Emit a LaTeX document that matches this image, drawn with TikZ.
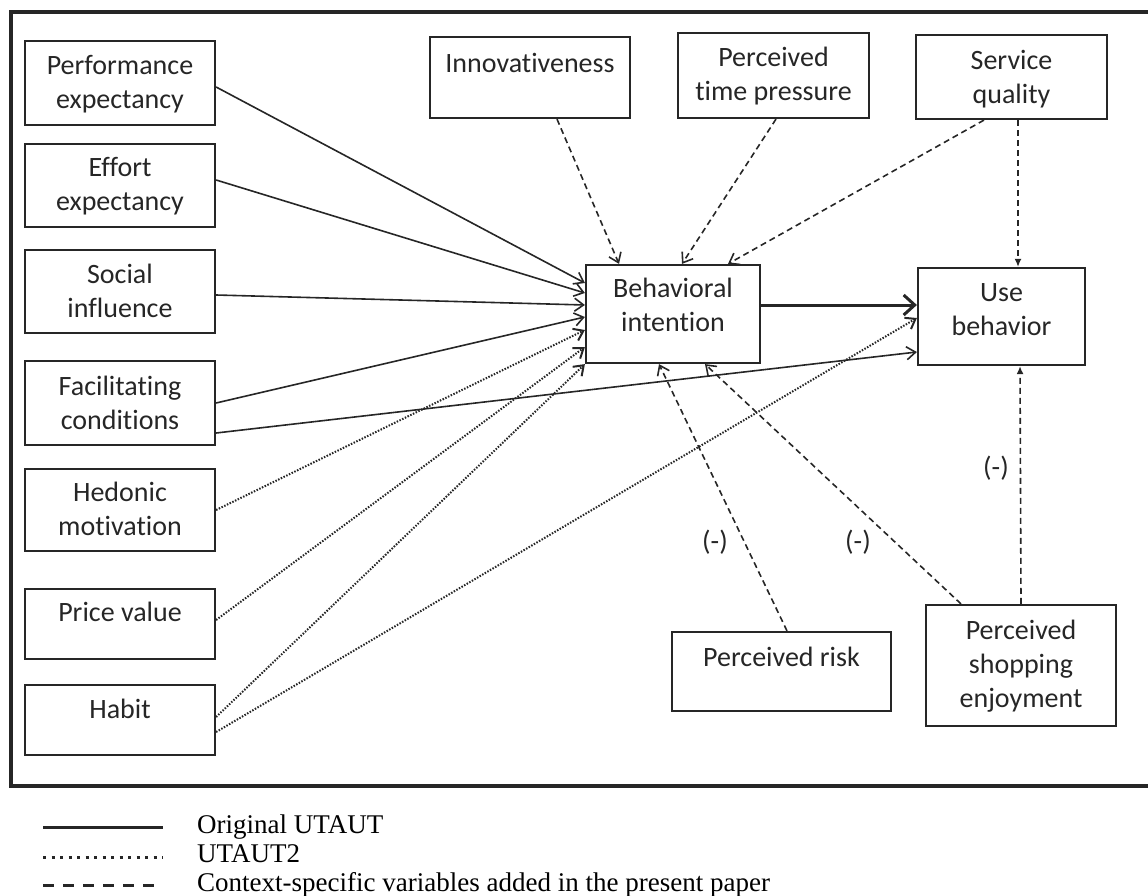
\documentclass[tikz,border=0pt]{standalone}
\usepackage{fontspec}
\setmainfont{Carlito}[Ligatures=NoCommon]
\newfontfamily\legendfont{Liberation Serif}
\usetikzlibrary{arrows.meta,positioning}
\definecolor{ink}{HTML}{262626}

\begin{document}
\begin{tikzpicture}[x=1pt, y=-1pt,
    >={Straight Barb[length=9pt,width=13pt]},
    box/.style={draw=ink, line width=2.2pt, inner sep=0pt},
    boxtext/.style={inner sep=0pt, align=center, text=ink, font=\fontsize{28}{34}\selectfont, execute at begin node=\strut},
    sign/.style={inner sep=0pt, text=ink, font=\fontsize{28}{34}\selectfont},
    legtext/.style={inner sep=0pt, anchor=base west, font=\legendfont\fontsize{27}{30}\selectfont},
    orig/.style={draw=ink, line width=1.6pt, ->},
    utaut2/.style={draw=ink, line width=2pt, dash pattern=on 1.5pt off 1.5pt, ->},
    added/.style={draw=ink, line width=1.6pt, dash pattern=on 6pt off 4pt, ->}]
    \useasboundingbox (0,0) rectangle (1148,896);
    % frame, cut off at the right
    \draw[ink, line width=3.5pt] (1148,12) -- (11,12) -- (11,786) -- (1148,786);

    % left column
    \node[box, minimum width=190pt, minimum height=84pt] (perf) at (120,83) {};
    \node[boxtext, below=15pt of perf.north] (perf-t) {Performance\\expectancy};
    \node[box, minimum width=190pt, minimum height=83pt] (effort) at (120,185.5) {};
    \node[boxtext, below=14pt of effort.north] (effort-t) {Effort\\expectancy};
    \node[box, minimum width=190pt, minimum height=83pt] (social) at (120,291.5) {};
    \node[boxtext, below=15pt of social.north] (social-t) {Social\\influence};
    \node[box, minimum width=190pt, minimum height=84pt] (facil) at (120,403) {};
    \node[boxtext, below=16pt of facil.north] (facil-t) {Facilitating\\conditions};
    \node[box, minimum width=190pt, minimum height=82pt] (hedonic) at (120,510) {};
    \node[boxtext, below=14pt of hedonic.north] (hedonic-t) {Hedonic\\motivation};
    \node[box, minimum width=190pt, minimum height=70pt] (price) at (120,624) {};
    \node[boxtext, below=10pt of price.north] (price-t) {Price value};
    \node[box, minimum width=190pt, minimum height=70pt] (habit) at (120,720) {};
    \node[boxtext, below=11pt of habit.north] (habit-t) {Habit};

    % top row
    \node[box, minimum width=200pt, minimum height=81pt] (innov) at (530,77.5) {};
    \node[boxtext, below=13pt of innov.north] (innov-t) {Innovativeness};
    \node[box, minimum width=191pt, minimum height=85pt] (time) at (773.5,75.5) {};
    \node[boxtext, below=15pt of time.north] (time-t) {Perceived\\time pressure};
    \node[box, minimum width=191pt, minimum height=84pt] (serv) at (1011.5,77) {};
    \node[boxtext, below=16pt of serv.north] (serv-t) {Service\\quality};

    % outcomes
    \node[box, minimum width=174pt, minimum height=98pt] (bi) at (673,314) {};
    \node[boxtext, below=14pt of bi.north] (bi-t) {Behavioral\\intention};
    \node[box, minimum width=167pt, minimum height=97pt] (ub) at (1001.5,316.5) {};
    \node[boxtext, below=16pt of ub.north] (ub-t) {Use\\behavior};

    % bottom right
    \node[box, minimum width=219pt, minimum height=79pt] (risk) at (781.5,671.5) {};
    \node[boxtext, below=12pt of risk.north] (risk-t) {Perceived risk};
    \node[box, minimum width=190pt, minimum height=121pt] (pse) at (1021,665.5) {};
    \node[boxtext, below=16pt of pse.north] (pse-t) {Perceived\\shopping\\enjoyment};

    % original UTAUT paths
    \draw[orig] ([yshift=-4pt]perf.east) -- ([yshift=31pt]bi.west);
    \draw[orig] ([yshift=5.5pt]effort.east) -- ([yshift=21pt]bi.west);
    \draw[orig] ([yshift=-3.5pt]social.east) -- ([yshift=9pt]bi.west);
    \draw[orig] (facil.east) -- ([yshift=-3pt]bi.west);
    \draw[orig] ([yshift=-30pt]facil.east) -- ([yshift=-35.5pt]ub.west);
    \draw[draw=ink, line width=3pt, -{Straight Barb[length=11pt,width=20pt]}] ([yshift=9pt]bi.east) -- ([yshift=11.5pt]ub.west);

    % UTAUT2 paths
    \draw[utaut2] (hedonic.east) -- ([yshift=-16pt]bi.west);
    \draw[utaut2] ([yshift=4pt]price.east) -- ([yshift=-33pt]bi.west);
    \draw[utaut2] ([yshift=3pt]habit.east) -- (bi.south west);
    \draw[utaut2] ([yshift=-12pt]habit.east) -- ([yshift=-1.5pt]ub.west);

    % added paths
    \draw[added] ([xshift=27pt]innov.south) -- ([xshift=-54pt]bi.north);
    \draw[added] ([xshift=2.5pt]time.south) -- ([xshift=9pt]bi.north);
    \draw[added] ([xshift=-27.5pt]serv.south) -- ([xshift=55pt]bi.north);
    \draw[added, -{Latex[length=8pt,width=7pt]}] ([xshift=6.5pt]serv.south) -- ([xshift=16.5pt]ub.north);
    \draw[added] ([xshift=5.5pt]risk.north) -- ([xshift=-14pt]bi.south);
    \draw[added] ([xshift=-60pt]pse.north) -- ([xshift=32pt]bi.south);
    \draw[added, -{Latex[length=8pt,width=7pt]}] (pse.north) -- ([xshift=18.5pt]ub.south);

    \node[sign] (neg-risk) at (715,542) {(-)};
    \node[sign] (neg-pse) at (858,542) {(-)};
    \node[sign] (neg-use) at (996,468) {(-)};

    % legend
    \draw[ink, line width=3pt] (43,827) -- (163,827);
    \draw[ink, line width=3pt, dash pattern=on 3pt off 5.5pt] (43,857) -- (163,857);
    \draw[ink, line width=3pt, dash pattern=on 11pt off 9pt] (43,885) -- (163,885);
    \node[legtext] (leg-orig) at (197,833) {Original UTAUT};
    \node[legtext] (leg-two) at (197,862) {UTAUT2};
    \node[legtext] (leg-added) at (197,891) {Context-specific variables added in the present paper};
\end{tikzpicture}
\end{document}
